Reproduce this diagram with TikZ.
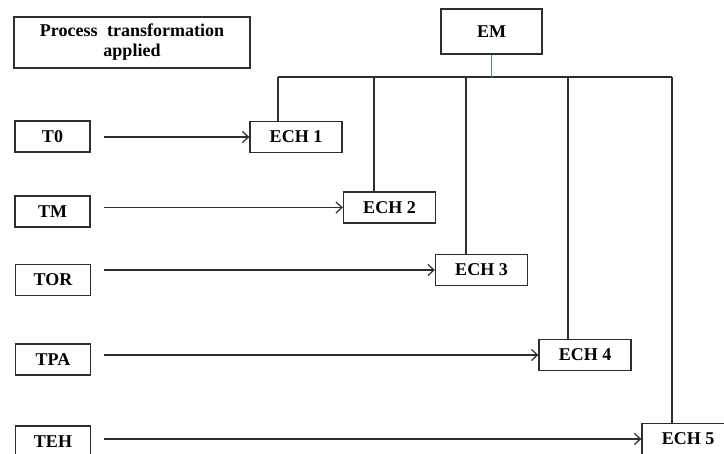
\documentclass[tikz,border=0pt]{standalone}
\usepackage{fontspec}
\setmainfont{Liberation Serif}
\usepackage{xcolor}
\usepackage{tikz}
\usetikzlibrary{arrows.meta,positioning}
\definecolor{ink}{HTML}{2E2E2E}
\definecolor{stem}{HTML}{4F81BD}

\begin{document}
\begin{tikzpicture}[x=1pt, y=-1pt,
  tbox/.style={draw=ink, line width=1.3pt, fill=white, inner sep=0pt, minimum width=75pt, minimum height=31pt, align=center, font=\fontsize{18}{20}\selectfont\bfseries},
  echbox/.style={tbox, minimum width=92pt},
  flow/.style={-{Straight Barb[length=6pt, width=11pt]}, line width=1.2pt, draw=ink, shorten <=13pt},
  link/.style={line width=1.2pt, draw=ink}
]
\useasboundingbox (0,0) rectangle (724,454);
\clip (0,0) rectangle (724,454);
\node[tbox, minimum width=236pt, minimum height=51pt] (title) at (132,42.5) {Process\hspace{5pt} transformation\\applied};
\node[tbox, minimum width=101pt, minimum height=45pt] (em) at (491.5,31.5) {EM};
% treatments
\node[tbox] (t0) at (52.5,136.5) {T0};
\node[tbox] (tm) at (52.5,211.5) {TM};
\node[tbox] (tor) at (53,280) {TOR};
\node[tbox] (tpa) at (53,359.5) {TPA};
\node[tbox] (teh) at (53,441.5) {TEH};
% samples
\node[echbox] (ech1) at (296,137) {ECH 1};
\node[echbox] (ech2) at (389.5,207.5) {ECH 2};
\node[echbox] (ech3) at (481.5,270) {ECH 3};
\node[echbox] (ech4) at (585,355) {ECH 4};
\node[echbox] (ech5) at (688,439) {ECH 5};
% bus from EM
\coordinate (d1) at (278,77);
\coordinate (d2) at (374,77);
\coordinate (d3) at (466,77);
\coordinate (d4) at (568,77);
\coordinate (d5) at (672,77);
\draw[link] (d1) -- (d5);
\draw[line width=1.2pt, draw=stem] (em.south) -- (em.south |- d1);
\draw[link] (d1) -- (d1 |- ech1.north);
\draw[link] (d2) -- (d2 |- ech2.north);
\draw[link] (d3) -- (d3 |- ech3.north);
\draw[link] (d4) -- (d4 |- ech4.north);
\draw[link] (d5) -- (d5 |- ech5.north);
% arrows
\draw[flow] (ech1.west -| t0.east) -- (ech1.west);
\draw[flow] (ech2.west -| tm.east) -- (ech2.west);
\draw[flow] (ech3.west -| tor.east) -- (ech3.west);
\draw[flow] (ech4.west -| tpa.east) -- (ech4.west);
\draw[flow] (ech5.west -| teh.east) -- (ech5.west);
\end{tikzpicture}
\end{document}
